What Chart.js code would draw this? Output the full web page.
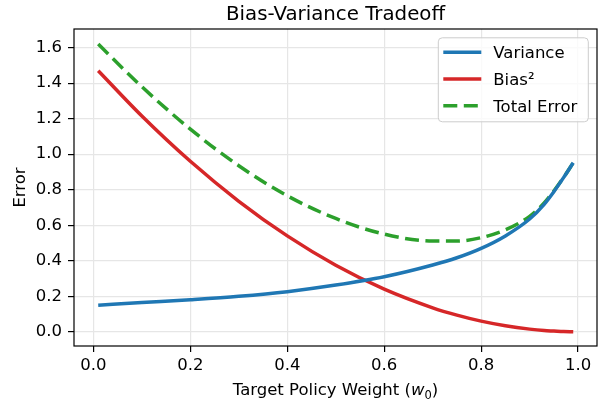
<!DOCTYPE html>
<html>
<head>
<meta charset="utf-8">
<script src="https://cdn.jsdelivr.net/npm/chart.js@4.4.0/dist/chart.umd.min.js"></script>
<style>
  html, body { margin: 0; padding: 0; background: #fff; }
</style>
</head>
<body>
<canvas id="tradeoffChart" width="601" height="404"></canvas>
<script>
// values
const weights  = [0.01, 0.1, 0.2, 0.3, 0.4, 0.5, 0.6, 0.7, 0.75, 0.8, 0.85, 0.9, 0.93, 0.95, 0.97, 0.99];
const variance = [0.150, 0.165, 0.181, 0.200, 0.226, 0.263, 0.310, 0.376, 0.417, 0.470, 0.540, 0.635, 0.718, 0.789, 0.868, 0.952];
const biasSq   = [1.470, 1.215, 0.960, 0.735, 0.540, 0.375, 0.240, 0.135, 0.094, 0.060, 0.034, 0.015, 0.007, 0.004, 0.001, 0.000];
const total    = [1.620, 1.380, 1.141, 0.935, 0.766, 0.638, 0.550, 0.511, 0.511, 0.530, 0.574, 0.650, 0.725, 0.793, 0.869, 0.952];

const xTicks = [0.0, 0.2, 0.4, 0.6, 0.8, 1.0];
const yTicks = [0.0, 0.2, 0.4, 0.6, 0.8, 1.0, 1.2, 1.4, 1.6];

const seriesNames = ['Variance', 'Bias\u00B2', 'Total Error'];
const titleText = 'Bias-Variance Tradeoff';
const yLabel = 'Error';
const xLabelParts = ['Target Policy Weight (', 'w', '0', ')'];

const FONT = '"DejaVu Sans", sans-serif';

const toPoints = (ys) => weights.map((w, i) => ({ x: w, y: ys[i] }));

const decorations = {
  id: 'decorations',
  afterDatasetsDraw(chart) {
    const { ctx, chartArea: a } = chart;
    ctx.save();

    // frame (all four spines)
    ctx.strokeStyle = '#000';
    ctx.lineWidth = 1.2;
    ctx.strokeRect(a.left, a.top, a.right - a.left, a.bottom - a.top);

    // title
    const cx = (a.left + a.right) / 2;
    ctx.fillStyle = '#000';
    ctx.textAlign = 'center';
    ctx.textBaseline = 'alphabetic';
    ctx.font = '19.8px ' + FONT;
    ctx.fillText(titleText, cx, 19.5);

    // x label with italic w and subscript 0
    const fonts = ['16.5px ' + FONT, 'italic 16.5px ' + FONT, '11.5px ' + FONT, '16.5px ' + FONT];
    const drops = [0, 0, 3.5, 0];
    let widths = xLabelParts.map((t, i) => { ctx.font = fonts[i]; return ctx.measureText(t).width; });
    let x = cx - widths.reduce((s, v) => s + v, 0) / 2;
    ctx.textAlign = 'left';
    xLabelParts.forEach((t, i) => {
      ctx.font = fonts[i];
      ctx.fillText(t, x, 395 + drops[i]);
      x += widths[i];
    });

    // y label
    ctx.save();
    ctx.translate(25, (a.top + a.bottom) / 2);
    ctx.rotate(-Math.PI / 2);
    ctx.textAlign = 'center';
    ctx.font = '16.5px ' + FONT;
    ctx.fillText(yLabel, 0, 0);
    ctx.restore();

    // legend box
    const bx = a.right - 158.7, by = a.top + 8.8, bw = 150, bh = 84;
    ctx.beginPath();
    ctx.roundRect(bx, by, bw, bh, 4);
    ctx.fillStyle = 'rgba(255,255,255,0.8)';
    ctx.fill();
    ctx.strokeStyle = '#cccccc';
    ctx.lineWidth = 1;
    ctx.stroke();

    chart.data.datasets.forEach((ds, i) => {
      const ly = by + 14.4 + i * 26.8;
      ctx.beginPath();
      ctx.setLineDash(ds.borderDash || []);
      ctx.strokeStyle = ds.borderColor;
      ctx.lineWidth = ds.borderWidth;
      ctx.moveTo(bx + 5, ly);
      ctx.lineTo(bx + 43, ly);
      ctx.stroke();
      ctx.setLineDash([]);
      ctx.fillStyle = '#000';
      ctx.font = '16.5px ' + FONT;
      ctx.textAlign = 'left';
      ctx.fillText(ds.label, bx + 55, ly + 6);
    });

    ctx.restore();
  }
};

document.addEventListener('DOMContentLoaded', () => {
  Chart.defaults.font.family = FONT;
  Chart.defaults.color = '#000';

  const ctx = document.getElementById('tradeoffChart').getContext('2d');
  new Chart(ctx, {
    type: 'line',
    data: {
      datasets: [
        { label: seriesNames[0], data: toPoints(variance), borderColor: '#1f77b4', borderWidth: 3.5 },
        { label: seriesNames[1], data: toPoints(biasSq), borderColor: '#d62728', borderWidth: 3.5 },
        { label: seriesNames[2], data: toPoints(total), borderColor: '#2ca02c', borderWidth: 3.5, borderDash: [14, 6.5] }
      ]
    },
    options: {
      responsive: false,
      animation: false,
      devicePixelRatio: 1,
      layout: { padding: { top: 29, right: 4, left: 0, bottom: 0 } },
      elements: {
        point: { radius: 0 },
        line: { cubicInterpolationMode: 'monotone', borderCapStyle: 'butt' }
      },
      plugins: {
        legend: { display: false },
        title: { display: false },
        tooltip: { enabled: false }
      },
      scales: {
        x: {
          type: 'linear',
          min: -0.04,
          max: 1.039,
          afterBuildTicks: (scale) => { scale.ticks = xTicks.map(v => ({ value: v })); },
          afterFit: (scale) => { scale.height = 58; },
          border: { display: false },
          grid: { color: '#e6e6e6', lineWidth: 1.2, tickColor: '#000', tickLength: 6, tickWidth: 1.2 },
          ticks: { font: { size: 16.5 }, color: '#000', padding: 4, maxRotation: 0,
                   callback: (v) => v.toFixed(1) }
        },
        y: {
          type: 'linear',
          min: -0.08,
          max: 1.705,
          afterBuildTicks: (scale) => { scale.ticks = yTicks.map(v => ({ value: v })); },
          afterFit: (scale) => { scale.width = 74; },
          border: { display: false },
          grid: { color: '#e6e6e6', lineWidth: 1.2, tickColor: '#000', tickLength: 6, tickWidth: 1.2 },
          ticks: { font: { size: 16.5 }, color: '#000', padding: 6,
                   callback: (v) => v.toFixed(1) }
        }
      }
    },
    plugins: [decorations]
  });
});
</script>
</body>
</html>
